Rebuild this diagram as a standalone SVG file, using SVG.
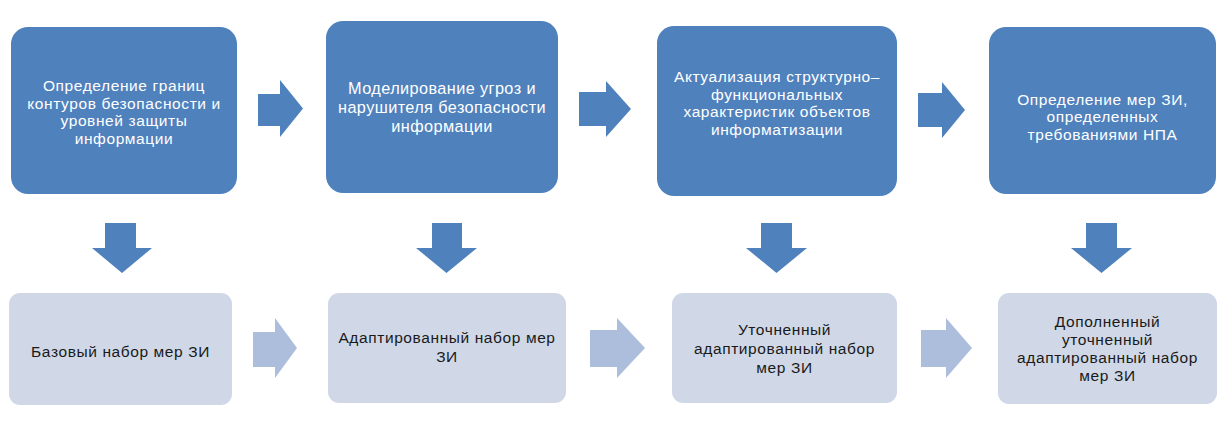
<svg xmlns="http://www.w3.org/2000/svg" width="1225" height="443" viewBox="0 0 1225 443">
<style>
.top{fill:#4F81BD}
.bot{fill:#D0D8E8}
.arr{fill:#4F81BD}
.arrl{fill:#ADBEDC}
text{font-family:"Liberation Sans","Open Sans",sans-serif;font-size:15.5px;letter-spacing:0.6px;text-anchor:middle}
.big{font-size:16.3px;letter-spacing:0.4px}
.wt{fill:#FFFFFF}
.bt{fill:#1A1A1A}
</style>
<rect width="1225" height="443" fill="#FFFFFF"/>
<g id="connectors">
<polygon class="arr" points="258,94 280,94 280,80 303,108.5 280,137 280,126 258,126"/>
<polygon class="arr" points="579,92 606,92 606,81 631,109 606,137 606,126 579,126"/>
<polygon class="arr" points="918,93 942,93 942,82 965,110 942,138 942,127 918,127"/>
<polygon class="arr" points="105,223 136,223 136,248 152,248 122,273 92,248 105,248"/>
<polygon class="arr" points="432,223 462,223 462,248 477,248 446.5,273 416,248 432,248"/>
<polygon class="arr" points="761,223 792,223 792,248 807,248 776.5,273 746,248 761,248"/>
<polygon class="arr" points="1086,223 1117,223 1117,248 1132,248 1101.5,273 1071,248 1086,248"/>
<polygon class="arrl" points="253,332 275,332 275,318 297,348 275,378 275,367 253,367"/>
<polygon class="arrl" points="590,330 617,330 617,318 645,348 617,378 617,367 590,367"/>
<polygon class="arrl" points="921,330 946,330 946,318 972,348 946,378 946,367 921,367"/>
</g>
<g id="n1">
<rect class="top" x="11" y="27" width="226" height="167" rx="17"/>
<text class="wt" x="124" y="91">Определение границ</text>
<text class="wt" x="124" y="108.5">контуров безопасности и</text>
<text class="wt" x="124" y="126">уровней защиты</text>
<text class="wt" x="124" y="143.5">информации</text>
</g>
<g id="n2">
<rect class="top" x="326" y="21" width="232" height="172" rx="17"/>
<text class="wt big" x="442" y="94">Моделирование угроз и</text>
<text class="wt big" x="442" y="113">нарушителя безопасности</text>
<text class="wt big" x="442" y="132">информации</text>
</g>
<g id="n3">
<rect class="top" x="657" y="26" width="240" height="170" rx="17"/>
<text class="wt" x="777" y="82">Актуализация структурно–</text>
<text class="wt" x="777" y="99.5">функциональных</text>
<text class="wt" x="777" y="117">характеристик объектов</text>
<text class="wt" x="777" y="134.5">информатизации</text>
</g>
<g id="n4">
<rect class="top" x="989" y="27" width="227" height="167" rx="17"/>
<text class="wt" x="1102.5" y="104.5">Определение мер ЗИ,</text>
<text class="wt" x="1102.5" y="122">определенных</text>
<text class="wt" x="1102.5" y="139.5">требованиями НПА</text>
</g>
<g id="n5">
<rect class="bot" x="9" y="293" width="223" height="112" rx="11"/>
<text class="bt" x="120.5" y="357">Базовый набор мер ЗИ</text>
</g>
<g id="n6">
<rect class="bot" x="328" y="293" width="238" height="110" rx="11"/>
<text class="bt" x="447" y="343">Адаптированный набор мер</text>
<text class="bt" x="447" y="362">ЗИ</text>
</g>
<g id="n7">
<rect class="bot" x="672" y="293" width="225" height="110" rx="11"/>
<text class="bt" x="784.5" y="335">Уточненный</text>
<text class="bt" x="784.5" y="354">адаптированный набор</text>
<text class="bt" x="784.5" y="372.5">мер ЗИ</text>
</g>
<g id="n8">
<rect class="bot" x="998" y="293" width="219" height="111" rx="11"/>
<text class="bt" x="1107.5" y="327">Дополненный</text>
<text class="bt" x="1107.5" y="345">уточненный</text>
<text class="bt" x="1107.5" y="363">адаптированный набор</text>
<text class="bt" x="1107.5" y="381">мер ЗИ</text>
</g>
</svg>
